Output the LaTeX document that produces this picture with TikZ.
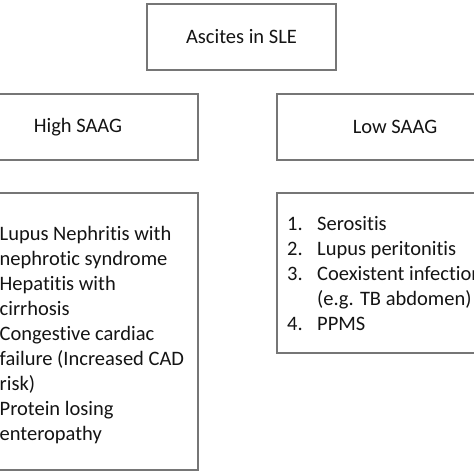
\documentclass[tikz,border=0pt]{standalone}
\usepackage{fontspec}
\setmainfont{Carlito}[Ligatures=NoCommon]
\definecolor{boxgray}{HTML}{767676}
\definecolor{inkdark}{HTML}{141414}

\begin{document}
\begin{tikzpicture}[
x=1pt, y=1pt,
every node/.style={
    font=\fontsize{20.5}{25}\selectfont,
    text=inkdark,
    inner sep=0
},
box/.style={
    rectangle,
    draw=boxgray,
    line width=1.2pt
}
]
\useasboundingbox (0,0) rectangle (474,474);
\clip (0,0) rectangle (474,474);

% heading boxes
\node[box, minimum width=189pt, minimum height=66pt] (sle) at (241.5,437) {Ascites in SLE};
\node[box, minimum width=240pt, minimum height=66pt] (high) at (78,347) {High SAAG};
\node[box, minimum width=236pt, minimum height=66pt] (low) at (395,347) {Low SAAG};

% list boxes
\node[box, minimum width=240pt, minimum height=277pt] (highlist) at (78,142.5) {};
\node[box, minimum width=236pt, minimum height=160pt] (lowlist) at (395,201) {};

% high SAAG causes
\foreach \txt [count=\i] in {Lupus Nephritis with, nephrotic syndrome, Hepatitis with,
    cirrhosis, Congestive cardiac, failure (Increased CAD, risk), Protein losing, enteropathy}
    \node[anchor=base west] (hi\i) at (-0.5, 233-25*\i+25) {\txt};

% low SAAG causes
\foreach \n/\y in {1/243, 2/218, 3/193, 4/143}
    \node[anchor=base west] (lonum\n) at (287,\y) {\n.};
\foreach \txt [count=\i] in {Serositis, Lupus peritonitis, Coexistent infection,
    {(e.g. TB abdomen)}, PPMS}
    \node[anchor=base west] (lo\i) at (317, 243-25*\i+25) {\txt};
\end{tikzpicture}
\end{document}
